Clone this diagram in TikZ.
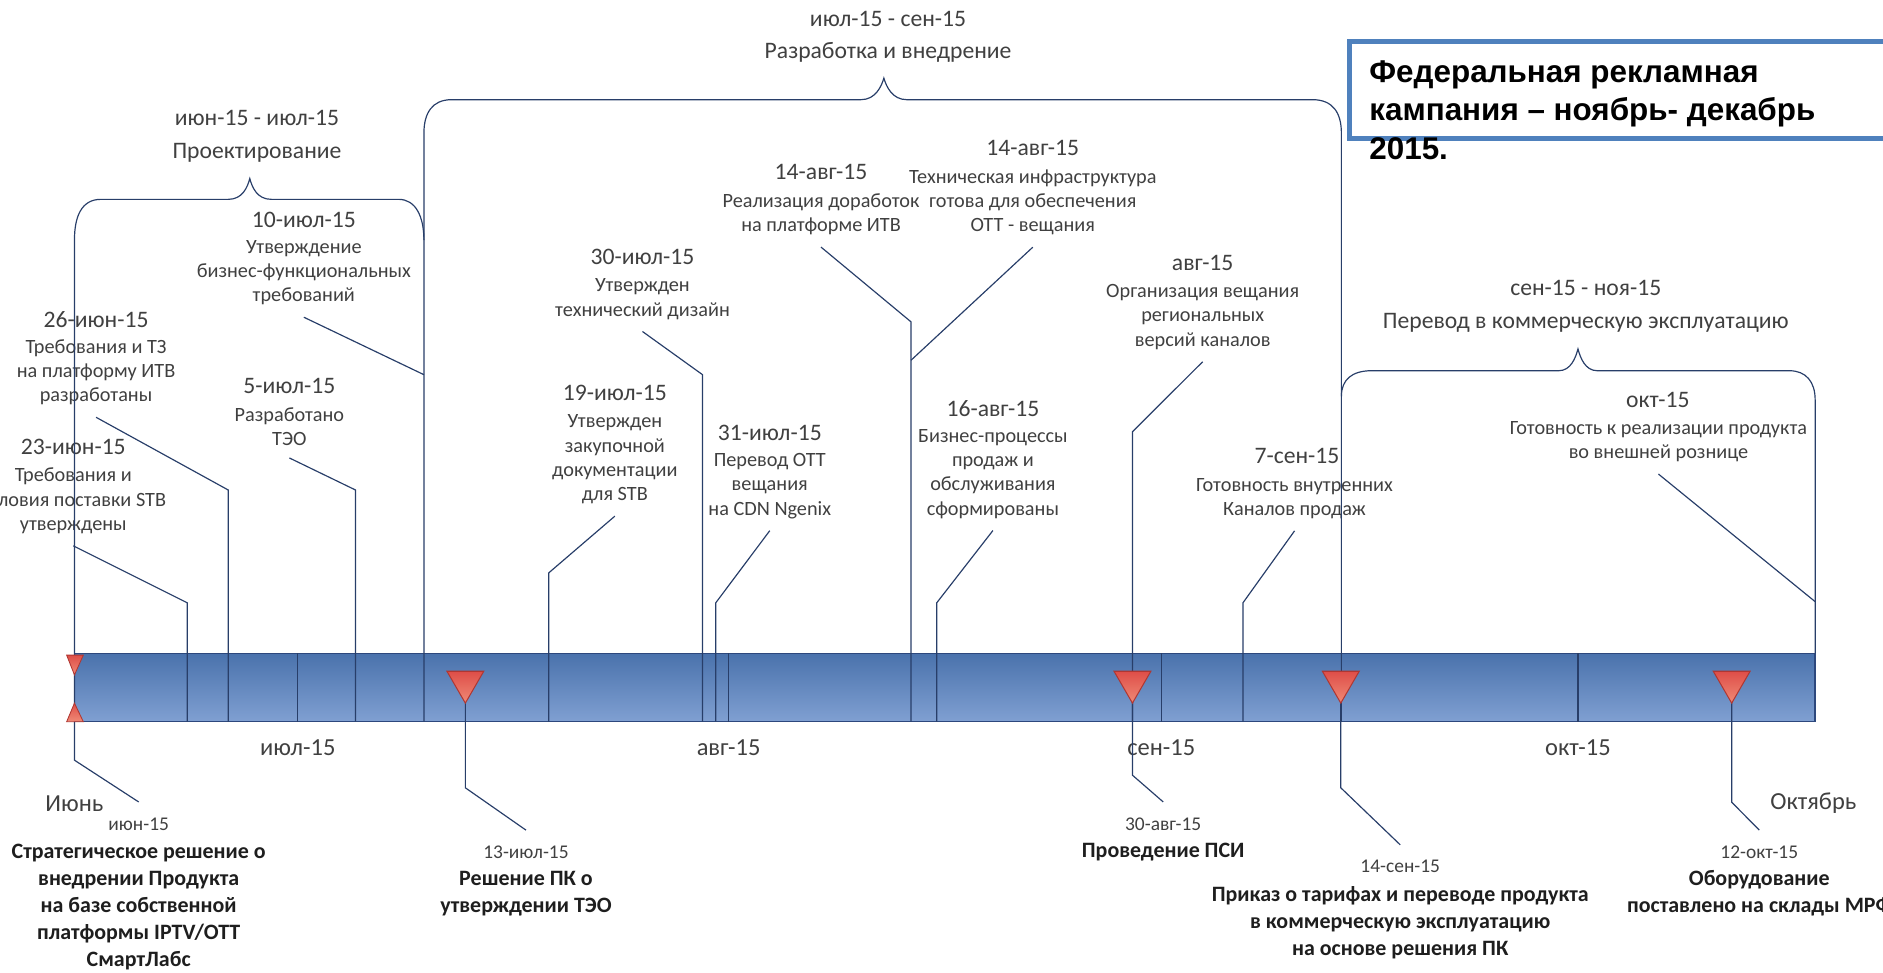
\documentclass[tikz,border=0pt]{standalone}
\usepackage{fontspec}
\setmainfont{Carlito}
\newfontfamily\boxfont{Liberation Sans}
\usepackage{xcolor}
\usetikzlibrary{shapes.geometric}

\definecolor{leadblue}{RGB}{40,62,105}
\definecolor{bartop}{RGB}{74,114,172}
\definecolor{barbot}{RGB}{128,160,210}
\definecolor{barline}{RGB}{45,72,125}
\definecolor{redtop}{RGB}{222,78,72}
\definecolor{redbot}{RGB}{240,138,118}
\definecolor{redline}{RGB}{175,55,50}
\definecolor{txtgray}{RGB}{64,64,64}
\definecolor{boldgray}{RGB}{30,30,30}
\definecolor{frameblue}{RGB}{79,129,189}

\begin{document}
\begin{tikzpicture}[x=0.025cm, y=-0.025cm,
    lead/.style={draw=leadblue, line width=0.7pt},
    headlbl/.style={text=txtgray, align=center, inner sep=0pt,
      font=\fontsize{14}{19.2}\selectfont},
    datelbl/.style={text=txtgray, inner sep=0pt, font=\fontsize{14}{17}\selectfont},
    desclbl/.style={text=txtgray, align=center, inner xsep=0pt, inner ysep=7pt,
      font=\fontsize{12}{14.4}\selectfont},
    monthlbl/.style={text=txtgray, inner sep=0pt, font=\fontsize{14.5}{17}\selectfont},
    botdate/.style={text=txtgray, inner xsep=0pt, inner ysep=9pt,
      font=\fontsize{11.5}{14}\selectfont},
    botdesc/.style={text=boldgray, align=center, inner sep=0pt,
      font=\bfseries\fontsize{13}{16}\selectfont},
    milestone/.style={regular polygon, regular polygon sides=3, shape border rotate=180,
      minimum size=0.885cm, inner sep=0pt, outer sep=0pt, draw=redline,
      line width=0.6pt, top color=redtop, bottom color=redbot}]
    \useasboundingbox (0,0) rectangle (1568,810);
    % ── Шкала ───────────────────────────────────────────────────────────────
    \coordinate (barNW) at (62,544);
    \coordinate (barSE) at (1511.5,601);
    \shade[top color=bartop, bottom color=barbot] (barNW) rectangle (barSE);
    \draw[barline, line width=0.8pt] (barNW) rectangle (barSE);
    % ── Этапы (скобки) ──────────────────────────────────────────────────────
    \node[headlbl] (hproj) at (214,113.5) {июн-15 - июл-15\\Проектирование};
    \node[headlbl] (hdev) at (739.5,30.5) {июл-15 - сен-15\\Разработка и внедрение};
    \node[headlbl] (hcom) at (1320.5,255) {сен-15 - ноя-15\\Перевод в коммерческую эксплуатацию};
    % ── Вехи над шкалой ─────────────────────────────────────────────────────
    \node[datelbl] (d10jul) at (253,183) {10-июл-15};
    \node[desclbl] (t10jul) at (253,227) {Утверждение\\бизнес-функциональных\\требований};
    \node[datelbl] (d26jun) at (80,266) {26-июн-15};
    \node[desclbl] (t26jun) at (80,310) {Требования и ТЗ\\на платформу ИТВ\\разработаны};
    \node[datelbl] (d23jun) at (61,372) {23-июн-15};
    \node[desclbl] (t23jun) at (61,417) {Требования и\\условия поставки STB\\утверждены};
    \node[datelbl] (d05jul) at (241,321.4) {5-июл-15};
    \node[desclbl] (t05jul) at (241,355.3) {Разработано\\ТЭО};
    \node[datelbl] (d30jul) at (535,214) {30-июл-15};
    \node[desclbl] (t30jul) at (535,249) {Утвержден\\технический дизайн};
    \node[datelbl] (d19jul) at (512,327) {19-июл-15};
    \node[desclbl] (t19jul) at (512,382.5) {Утвержден\\закупочной\\документации\\для STB};
    \node[datelbl] (d31jul) at (641,360.8) {31-июл-15};
    \node[desclbl] (t31jul) at (641,404.6) {Перевод OTT\\вещания\\на CDN Ngenix};
    \node[datelbl] (d14augA) at (683.7,143) {14-авг-15};
    \node[desclbl] (t14augA) at (683.7,178.4) {Реализация доработок\\на платформе ИТВ};
    \node[datelbl] (d14augB) at (860,123.5) {14-авг-15};
    \node[desclbl] (t14augB) at (860,168.4) {Техническая инфраструктура\\готова для обеспечения\\OTT - вещания};
    \node[datelbl] (daug) at (1001.5,219) {авг-15};
    \node[desclbl] (taug) at (1001.5,264) {Организация вещания\\региональных\\версий каналов};
    \node[datelbl] (d16aug) at (826.8,340) {16-авг-15};
    \node[desclbl] (t16aug) at (826.8,394.5) {Бизнес-процессы\\продаж и\\обслуживания\\сформированы};
    \node[datelbl] (d07sep) at (1080,380) {7-сен-15};
    \node[desclbl] (t07sep) at (1078,415) {Готовность внутренних\\Каналов продаж};
    \node[datelbl] (doct) at (1380.5,333) {окт-15};
    \node[desclbl] (toct) at (1381,367.7) {Готовность к реализации продукта\\во внешней рознице};
    % ── Месяцы и вехи под шкалой ────────────────────────────────────────────
    \node[monthlbl] (mjul) at (248,623) {июл-15};
    \node[monthlbl] (maug) at (606.7,623) {авг-15};
    \node[monthlbl] (msep) at (967,623) {сен-15};
    \node[monthlbl] (moct) at (1314,623) {окт-15};
    \node[monthlbl] (ljun) at (62,669) {Июнь};
    \node[monthlbl] (loct) at (1510,669) {Октябрь};
    \node[botdate] (bjun) at (115.5,686) {июн-15};
    \node[botdesc] (sjun) at (115.5,755) {Стратегическое решение о\\внедрении Продукта\\на базе собственной\\платформы IPTV/OTT\\СмартЛабс};
    \node[botdate] (b13jul) at (438,709.5) {13-июл-15};
    \node[botdesc] (s13jul) at (438,744.5) {Решение ПК о\\утверждении ТЭО};
    \node[botdate] (b30aug) at (968.6,686) {30-авг-15};
    \node[botdesc] (s30aug) at (968.6,709.5) {Проведение ПСИ};
    \node[botdate] (b14sep) at (1166,721.7) {14-сен-15};
    \node[botdesc] (s14sep) at (1166,768.6) {Приказ о тарифах и переводе продукта\\в коммерческую эксплуатацию\\на основе решения ПК};
    \node[botdate] (b12oct) at (1465,709.5) {12-окт-15};
    \node[botdesc] (s12oct) at (1465,744) {Оборудование\\поставлено на склады МРФ};
    % ── Изломы выносок ──────────────────────────────────────────────────────
    \coordinate (k23jun) at (156,502);
    \coordinate (k26jun) at (190,408);
    \coordinate (k05jul) at (296,408);
    \coordinate (k10jul) at (353,312);
    \coordinate (k19jul) at (457,477);
    \coordinate (k30jul) at (585,312);
    \coordinate (k31jul) at (596,502);
    \coordinate (k14augA) at (758.6,268);
    \coordinate (k14augB) at (758.6,300);
    \coordinate (k16aug) at (780,502);
    \coordinate (kaug) at (943,359.5);
    \coordinate (k07sep) at (1035,502);
    \coordinate (koct) at (1511.5,501);
    \coordinate (cjun) at (62,594);
    \coordinate (c13jul) at (387.5,567.8);
    \coordinate (c30aug) at (943,567.8);
    \coordinate (c14sep) at (1116.5,567.8);
    \coordinate (c12oct) at (1442,567.8);
    \coordinate (kjun) at (62,633);
    \coordinate (k13jul) at (387.5,656);
    \coordinate (k30aug) at (943,645.5);
    \coordinate (k14sep) at (1116.5,656);
    \coordinate (k12oct) at (1442,668);
    % ── Скобки ──────────────────────────────────────────────────────────────
    \draw[lead] (62,601) -- (62,200) .. controls (62,180) and (68,166) .. (84,166)
      -- (190,166) .. controls (202,166) and (206,156) .. (208,148.7)
      .. controls (210,156) and (214,166) .. (226,166)
      -- (332,166) .. controls (346,166) and (353,180) .. (353,200) -- (353,601);
    \draw[lead] (353,200) -- (353,111) .. controls (353,94) and (360,83) .. (376,83)
      -- (717,83) .. controls (729,83) and (734,72) .. (736,65)
      .. controls (738,72) and (743,83) .. (755,83)
      -- (1093,83) .. controls (1110,83) and (1117,94) .. (1117,111) -- (1117,601);
    \draw[lead] (1117,330) .. controls (1117,316) and (1126,308.7) .. (1142,308.7)
      -- (1298,308.7) .. controls (1308,308.7) and (1312,298) .. (1314,290.6)
      .. controls (1316,298) and (1320,308.7) .. (1330,308.7)
      -- (1490,308.7) .. controls (1504,308.7) and (1511.5,318) .. (1511.5,333)
      -- (1511.5,544);
    % ── Выноски сверху ──────────────────────────────────────────────────────
    \draw[lead] (t23jun.south) -- (k23jun) -- (k23jun |- barSE);
    \draw[lead] (t26jun.south) -- (k26jun) -- (k26jun |- barSE);
    \draw[lead] (t05jul.south) -- (k05jul) -- (k05jul |- barSE);
    \draw[lead] (t10jul.south) -- (k10jul);
    \draw[lead] (t19jul.south) -- (k19jul) -- (k19jul |- barSE);
    \draw[lead] (t30jul.south) -- (k30jul) -- (k30jul |- barSE);
    \draw[lead] (t31jul.south) -- (k31jul) -- (k31jul |- barSE);
    \draw[lead] (t14augA.south) -- (k14augA) -- (k14augA |- barSE);
    \draw[lead] (t14augB.south) -- (k14augB);
    \draw[lead] (t16aug.south) -- (k16aug) -- (k16aug |- barSE);
    \draw[lead] (taug.south) -- (kaug) -- (kaug |- barSE);
    \draw[lead] (t07sep.south) -- (k07sep) -- (k07sep |- barSE);
    \draw[lead] (toct.south) -- (koct);
    % месяцы на шкале
    \foreach \mx in {248,606.7,967,1314}
      \draw[lead] (\mx,544) -- (\mx,601);
    % ── Выноски снизу ───────────────────────────────────────────────────────
    \draw[lead] (cjun) -- (kjun) -- (bjun.north);
    \draw[lead] (c13jul) -- (k13jul) -- (b13jul.north);
    \draw[lead] (c30aug) -- (k30aug) -- (b30aug.north);
    \draw[lead] (c14sep) -- (k14sep) -- (b14sep.north);
    \draw[lead] (c12oct) -- (k12oct) -- (b12oct.north);
    % ── Маркеры ─────────────────────────────────────────────────────────────
    \node[milestone] (m13jul) at (c13jul) {};
    \node[milestone] (m30aug) at (c30aug) {};
    \node[milestone] (m14sep) at (c14sep) {};
    \node[milestone] (m12oct) at (c12oct) {};
    \draw[draw=redline, line width=0.5pt, top color=redtop, bottom color=redbot]
      (55.5,545.5) -- (69.4,545.5) -- (62,562) -- cycle;
    \draw[draw=redline, line width=0.5pt, top color=redtop, bottom color=redbot]
      (55.5,601) -- (69.4,601) -- (62,585.5) -- cycle;
    % ── Рамка кампании ──────────────────────────────────────────────────────
    \draw[frameblue, line width=2.9pt] (1123.5,34.7) rectangle (1600,115);
    \node[anchor=west, align=left, inner sep=0pt,
      font=\boxfont\bfseries\fontsize{18.6}{22.7}\selectfont] (camp) at (1140,91.6)
      {Федеральная рекламная\\кампания – ноябрь- декабрь\\2015.};
\end{tikzpicture}
\end{document}
